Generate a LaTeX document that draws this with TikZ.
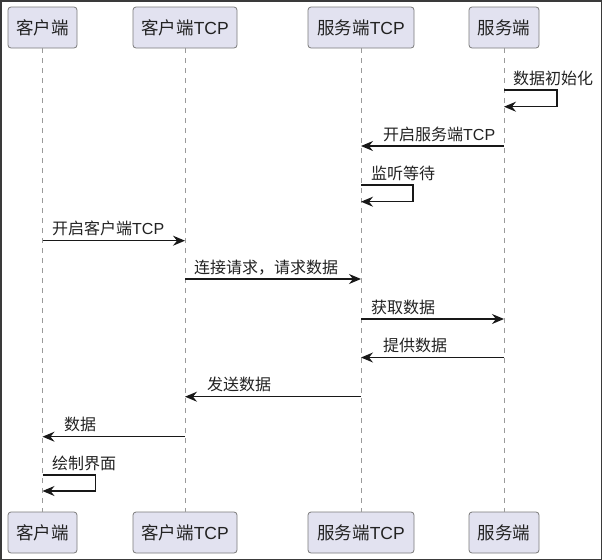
\documentclass[tikz,border=0pt]{standalone}
\usepackage{fontspec}
\setmainfont{Liberation Sans}
\newfontfamily\cjk{Noto Sans CJK SC}
\usetikzlibrary{arrows.meta}
\definecolor{boxfill}{HTML}{E2E2F0}
\definecolor{boxline}{HTML}{7A7A7A}
\definecolor{life}{HTML}{9A9A9A}
\definecolor{arrowc}{HTML}{181818}
\definecolor{framec}{HTML}{3A3A3A}
\definecolor{txt}{HTML}{222222}
\begin{document}
\begin{tikzpicture}[x=1pt,y=-1pt,
 part/.style={draw=boxline, fill=boxfill, rounded corners=3pt, line width=0.8pt, minimum height=41pt, inner sep=0pt, font=\fontsize{17.5}{20}\selectfont, text=txt},
 lifeline/.style={draw=life, dash pattern=on 5pt off 5pt, line width=0.8pt},
 msg/.style={draw=arrowc, line width=1.2pt, -{Stealth[length=12pt,width=10pt,inset=4pt]}},
 lbl/.style={anchor=base west, inner sep=0pt, font=\fontsize{16}{18}\selectfont, text=txt}]
\useasboundingbox (0,0) rectangle (603,560);
\draw[framec, line width=1.5pt] (0.75,0.75) rectangle (601.5,559.25);

% participants top
\node[part, minimum width=69pt]  (At) at (42.5,27.5) {\cjk 客户端};
\node[part, minimum width=104pt] (Bt) at (185,27.5) {{\cjk 客户端}TCP};
\node[part, minimum width=106pt] (Ct) at (361,27.5) {{\cjk 服务端}TCP};
\node[part, minimum width=70pt]  (Dt) at (504,27.5) {\cjk 服务端};
% participants bottom
\node[part, minimum width=69pt]  (Ab) at (42.5,532.5) {\cjk 客户端};
\node[part, minimum width=104pt] (Bb) at (185,532.5) {{\cjk 客户端}TCP};
\node[part, minimum width=106pt] (Cb) at (361,532.5) {{\cjk 服务端}TCP};
\node[part, minimum width=70pt]  (Db) at (504,532.5) {\cjk 服务端};

% lifelines
\draw[lifeline] (At.south) -- (Ab.north);
\draw[lifeline] (Bt.south) -- (Bb.north);
\draw[lifeline] (Ct.south) -- (Cb.north);
\draw[lifeline] (Dt.south) -- (Db.north);

% message endpoints
\coordinate (s1a) at (504,90);   \coordinate (s1b) at (504,106.7);
\coordinate (m2a) at (504,146);  \coordinate (m2b) at (361,146);
\coordinate (s3a) at (361,185);  \coordinate (s3b) at (361,201.7);
\coordinate (m4a) at (42.5,240.7); \coordinate (m4b) at (185,240.7);
\coordinate (m5a) at (185,279);  \coordinate (m5b) at (361,279);
\coordinate (m6a) at (361,319);  \coordinate (m6b) at (504,319);
\coordinate (m7a) at (504,357.5);  \coordinate (m7b) at (361,357.5);
\coordinate (m8a) at (361,396.7);  \coordinate (m8b) at (185,396.7);
\coordinate (m9a) at (185,436.7);  \coordinate (m9b) at (42.5,436.7);
\coordinate (s10a) at (42.5,475); \coordinate (s10b) at (42.5,491);

% messages
\draw[msg] (s1a) -- ++(53,0) -- ++(0,16.7) -- (s1b);
\node[lbl] (l1) at (513,84.5) {\cjk 数据初始化};
\draw[msg] (m2a) -- (m2b);
\node[lbl] (l2) at (383,140) {{\cjk 开启服务端}TCP};
\draw[msg] (s3a) -- ++(52,0) -- ++(0,16.7) -- (s3b);
\node[lbl] (l3) at (371,179) {\cjk 监听等待};
\draw[msg] (m4a) -- (m4b);
\node[lbl] (l4) at (52,234.5) {{\cjk 开启客户端}TCP};
\draw[msg] (m5a) -- (m5b);
\node[lbl] (l5) at (194,273) {\cjk 连接请求，请求数据};
\draw[msg] (m6a) -- (m6b);
\node[lbl] (l6) at (371,313) {\cjk 获取数据};
\draw[msg] (m7a) -- (m7b);
\node[lbl] (l7) at (383,351.5) {\cjk 提供数据};
\draw[msg] (m8a) -- (m8b);
\node[lbl] (l8) at (207,390.5) {\cjk 发送数据};
\draw[msg] (m9a) -- (m9b);
\node[lbl] (l9) at (64,430.5) {\cjk 数据};
\draw[msg] (s10a) -- ++(53,0) -- ++(0,16) -- (s10b);
\node[lbl] (l10) at (52,469) {\cjk 绘制界面};
\end{tikzpicture}
\end{document}
